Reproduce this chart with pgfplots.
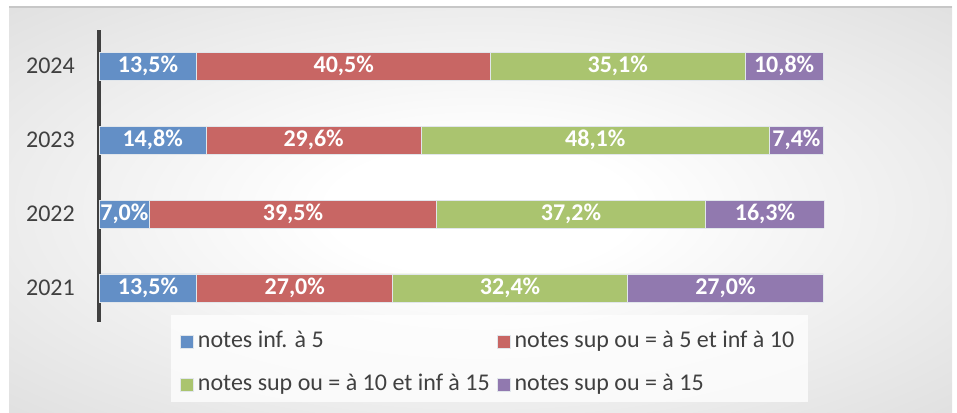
\documentclass[border=0pt]{standalone}
\usepackage{fontspec}
\setmainfont{Carlito}
\usepackage{pgfplots}
\usepackage{pgfplotstable}
\pgfplotsset{compat=1.18}
\definecolor{cblue}{RGB}{99,143,198}
\definecolor{cred}{RGB}{200,102,100}
\definecolor{cgreen}{RGB}{170,196,111}
\definecolor{cpurple}{RGB}{145,121,175}
\definecolor{txt}{RGB}{64,64,64}
\definecolor{bgmid}{RGB}{214,214,214}
\definecolor{bgout}{RGB}{192,192,192}
\definecolor{barline}{RGB}{225,230,235}
\pgfdeclareradialshading{bgshade}{\pgfpoint{0bp}{0bp}}{color(0bp)=(white);color(8bp)=(white);color(45bp)=(bgmid);color(75bp)=(bgout);color(100bp)=(bgout)}
\pgfplotstableread{
y v1 v2 v3 v4
0 13.5 27.0 32.4 27.0
1 7.0 39.5 37.2 16.3
2 14.8 29.6 48.1 7.4
3 13.5 40.5 35.1 10.8
}\data
\pgfplotsset{sq/.style={legend image code/.code={\fill[fill=#1] (0pt,-6.5pt) rectangle (13pt,6.5pt);}}}
\begin{document}
\begin{tikzpicture}[x=1pt,y=1pt]
\path (0,0) rectangle (957,412);
\shade[shading=bgshade] (9,0) rectangle (952,405);
\draw[black!22, line width=1.5pt] (9,405) -- (952,405);
\fill[white, opacity=0.75] (171,10) rectangle (808,97);
\begin{axis}[
  at={(99pt,90pt)}, anchor=south west,
  width=725pt, height=292pt, scale only axis,
  xbar stacked, bar width=28pt,
  xmin=0, xmax=100, ymin=-0.46, ymax=3.49,
  hide x axis,
  axis y line*=left,
  y axis line style={line width=3.5pt, color=txt},
  ytick={0,1,2,3}, yticklabels={2021,2022,2023,2024},
  major tick length=0pt,
  y tick label style={font=\fontsize{24}{28}\selectfont, text=txt, anchor=east, inner sep=0pt, xshift=-24pt},
  /pgf/number format/assume math mode=true,
  point meta=explicit,
  nodes near coords={\pgfmathprintnumber[fixed,fixed zerofill,precision=1,use comma]{\pgfplotspointmeta}\%},
  every node near coord/.append style={font=\bfseries\fontsize{24}{28}\selectfont, text=white, anchor=center},
  legend columns=2,
  legend style={at={(0.1117,-0.03)}, anchor=north west, draw=none, fill=none,
    font=\fontsize{24}{28}\selectfont, text=txt, inner sep=0pt,
    nodes={inner sep=0pt, text height=17pt, text depth=5pt},
    row sep=21pt, /tikz/every even column/.append style={column sep=7pt}},
  legend cell align=left,
]
\addplot[fill=cblue, draw=barline, line width=0.8pt, sq=cblue] table[x=v1, y=y, meta=v1] {\data};
\addlegendentry{\,notes inf. à 5}
\addplot[fill=cred, draw=barline, line width=0.8pt, sq=cred] table[x=v2, y=y, meta=v2] {\data};
\addlegendentry{\,notes sup ou = à 5 et inf à 10}
\addplot[fill=cgreen, draw=barline, line width=0.8pt, sq=cgreen] table[x=v3, y=y, meta=v3] {\data};
\addlegendentry{\,notes sup ou = à 10 et inf à 15}
\addplot[fill=cpurple, draw=barline, line width=0.8pt, sq=cpurple] table[x=v4, y=y, meta=v4] {\data};
\addlegendentry{\,notes sup ou = à 15}
\end{axis}
\end{tikzpicture}
\end{document}
